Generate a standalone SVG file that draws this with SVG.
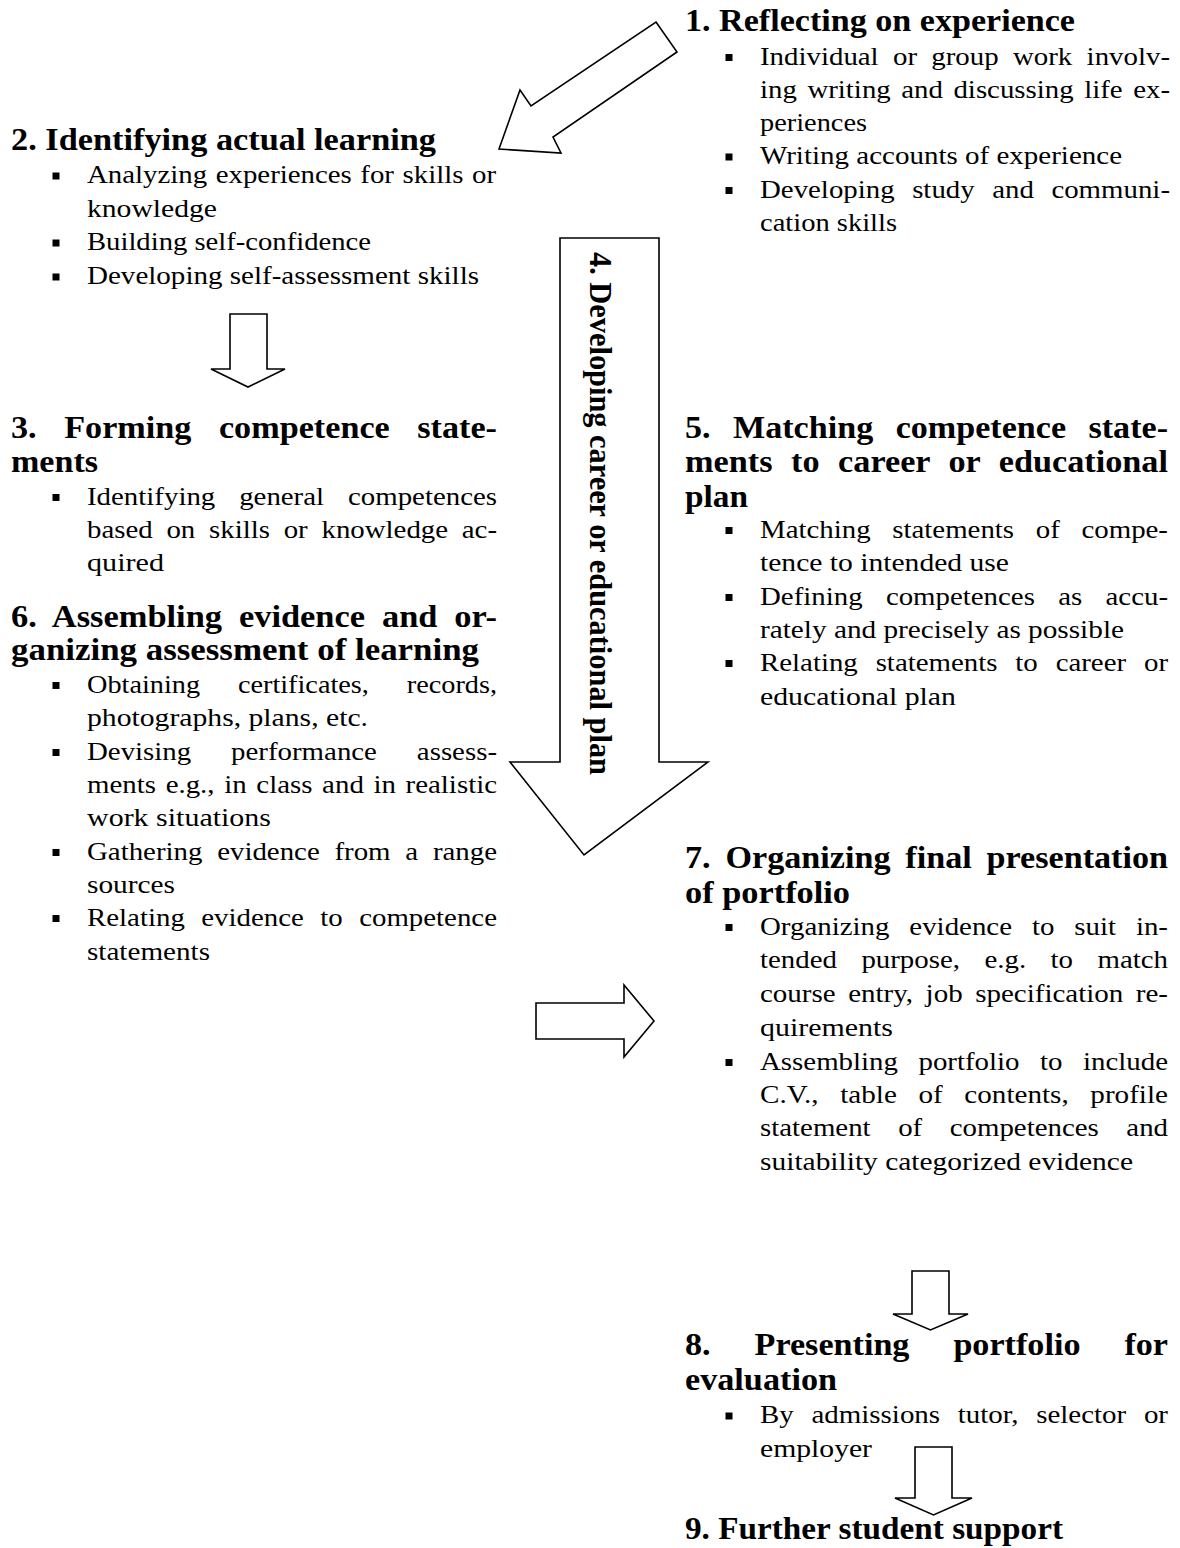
<svg xmlns="http://www.w3.org/2000/svg" xmlns:xlink="http://www.w3.org/1999/xlink" width="1180" height="1548" viewBox="0 0 1180 1548">
<style>
text{font-family:"Liberation Serif","Times New Roman",serif;fill:#000}
.h{font-weight:bold;font-size:31px}
.b{font-size:26px}
.ar{fill:#fff;stroke:#000;stroke-width:1.6;stroke-linejoin:miter}
</style>
<defs>
<rect id="blt" width="7" height="7" fill="#000"/>
</defs>
<rect width="1180" height="1548" fill="#fff"/>
<g id="connectors">
<polygon class="ar" points="656,22 677,52 553,137 561,153 499,149 520,90 531,106"/>
<path class="ar" d="M230,314 H267 V369 H285 L248,387 L211,369 H230 Z"/>
<path class="ar" d="M536,1003 H624 V985 L654,1021 L624,1057 V1039 H536 Z"/>
<path class="ar" d="M912,1271 H949 V1314 H968 L930.5,1330 L893,1314 H912 Z"/>
<path class="ar" d="M915,1447 H952 V1498 H972 L933.5,1515 L895,1498 H915 Z"/>
</g>
<g id="n4">
<path class="ar" d="M560,238 H659 V762 H708 L584,855 L510,762 H560 Z"/>
<text class="h" transform="translate(590,252) rotate(90)" textLength="523" lengthAdjust="spacingAndGlyphs">4. Developing career or educational plan</text>
</g>
<g id="n1">
<text class="h" x="685" y="31" textLength="390" lengthAdjust="spacingAndGlyphs">1. Reflecting on experience</text>
<use xlink:href="#blt" x="725.5" y="54"/>
<text class="b" x="760" y="64.5" textLength="410" lengthAdjust="spacingAndGlyphs" style="word-spacing:6.4px">Individual or group work involv-</text>
<text class="b" x="760" y="98" textLength="410" lengthAdjust="spacingAndGlyphs" style="word-spacing:3px">ing writing and discussing life ex-</text>
<text class="b" x="760" y="131" textLength="107" lengthAdjust="spacingAndGlyphs">periences</text>
<use xlink:href="#blt" x="725.5" y="153.5"/>
<text class="b" x="760" y="164" textLength="362" lengthAdjust="spacingAndGlyphs">Writing accounts of experience</text>
<use xlink:href="#blt" x="725.5" y="187"/>
<text class="b" x="760" y="197.5" textLength="410" lengthAdjust="spacingAndGlyphs" style="word-spacing:9.3px">Developing study and communi-</text>
<text class="b" x="760" y="231" textLength="137" lengthAdjust="spacingAndGlyphs">cation skills</text>
</g>
<g id="n2">
<text class="h" x="11" y="150" textLength="425" lengthAdjust="spacingAndGlyphs">2. Identifying actual learning</text>
<use xlink:href="#blt" x="52.5" y="172.5"/>
<text class="b" x="87" y="183" textLength="409" lengthAdjust="spacingAndGlyphs" style="word-spacing:1.2px">Analyzing experiences for skills or</text>
<text class="b" x="87" y="217" textLength="130" lengthAdjust="spacingAndGlyphs">knowledge</text>
<use xlink:href="#blt" x="52.5" y="239.5"/>
<text class="b" x="87" y="250" textLength="284" lengthAdjust="spacingAndGlyphs">Building self-confidence</text>
<use xlink:href="#blt" x="52.5" y="273.5"/>
<text class="b" x="87" y="284" textLength="392" lengthAdjust="spacingAndGlyphs">Developing self-assessment skills</text>
</g>
<g id="n3">
<text class="h" x="11" y="438" textLength="486" lengthAdjust="spacingAndGlyphs" style="word-spacing:17.25px">3. Forming competence state-</text>
<text class="h" x="11" y="472" textLength="87" lengthAdjust="spacingAndGlyphs">ments</text>
<use xlink:href="#blt" x="52.5" y="494"/>
<text class="b" x="87" y="504.5" textLength="410" lengthAdjust="spacingAndGlyphs" style="word-spacing:15px">Identifying general competences</text>
<text class="b" x="87" y="537.5" textLength="410" lengthAdjust="spacingAndGlyphs" style="word-spacing:5.9px">based on skills or knowledge ac-</text>
<text class="b" x="87" y="570.5" textLength="77" lengthAdjust="spacingAndGlyphs">quired</text>
</g>
<g id="n6">
<text class="h" x="11" y="627" textLength="486" lengthAdjust="spacingAndGlyphs" style="word-spacing:7.5px">6. Assembling evidence and or-</text>
<text class="h" x="11" y="660" textLength="468" lengthAdjust="spacingAndGlyphs">ganizing assessment of learning</text>
<use xlink:href="#blt" x="52.5" y="682"/>
<text class="b" x="87" y="692.5" textLength="410" lengthAdjust="spacingAndGlyphs" style="word-spacing:28.3px">Obtaining certificates, records,</text>
<text class="b" x="87" y="725.5" textLength="281" lengthAdjust="spacingAndGlyphs">photographs, plans, etc.</text>
<use xlink:href="#blt" x="52.5" y="749"/>
<text class="b" x="87" y="759.5" textLength="410" lengthAdjust="spacingAndGlyphs" style="word-spacing:29.45px">Devising performance assess-</text>
<text class="b" x="87" y="792.5" textLength="410" lengthAdjust="spacingAndGlyphs" style="word-spacing:2.2px">ments e.g., in class and in realistic</text>
<text class="b" x="87" y="825.5" textLength="184" lengthAdjust="spacingAndGlyphs">work situations</text>
<use xlink:href="#blt" x="52.5" y="849"/>
<text class="b" x="87" y="859.5" textLength="410" lengthAdjust="spacingAndGlyphs" style="word-spacing:6.8px">Gathering evidence from a range</text>
<text class="b" x="87" y="892.5" textLength="88" lengthAdjust="spacingAndGlyphs">sources</text>
<use xlink:href="#blt" x="52.5" y="915"/>
<text class="b" x="87" y="925.5" textLength="410" lengthAdjust="spacingAndGlyphs" style="word-spacing:8.3px">Relating evidence to competence</text>
<text class="b" x="87" y="959.5" textLength="123" lengthAdjust="spacingAndGlyphs">statements</text>
</g>
<g id="n5">
<text class="h" x="685" y="438" textLength="483" lengthAdjust="spacingAndGlyphs" style="word-spacing:12.65px">5. Matching competence state-</text>
<text class="h" x="685" y="472" textLength="483" lengthAdjust="spacingAndGlyphs" style="word-spacing:9.05px">ments to career or educational</text>
<text class="h" x="685" y="507" textLength="63" lengthAdjust="spacingAndGlyphs">plan</text>
<use xlink:href="#blt" x="725.5" y="527"/>
<text class="b" x="760" y="537.5" textLength="408" lengthAdjust="spacingAndGlyphs" style="word-spacing:13px">Matching statements of compe-</text>
<text class="b" x="760" y="570.5" textLength="249" lengthAdjust="spacingAndGlyphs">tence to intended use</text>
<use xlink:href="#blt" x="725.5" y="594"/>
<text class="b" x="760" y="604.5" textLength="408" lengthAdjust="spacingAndGlyphs" style="word-spacing:14.5px">Defining competences as accu-</text>
<text class="b" x="760" y="637.5" textLength="364" lengthAdjust="spacingAndGlyphs">rately and precisely as possible</text>
<use xlink:href="#blt" x="725.5" y="660"/>
<text class="b" x="760" y="670.5" textLength="408" lengthAdjust="spacingAndGlyphs" style="word-spacing:9.6px">Relating statements to career or</text>
<text class="b" x="760" y="704.5" textLength="196" lengthAdjust="spacingAndGlyphs">educational plan</text>
</g>
<g id="n7">
<text class="h" x="685" y="868" textLength="483" lengthAdjust="spacingAndGlyphs" style="word-spacing:5.7px">7. Organizing final presentation</text>
<text class="h" x="685" y="903" textLength="165" lengthAdjust="spacingAndGlyphs">of portfolio</text>
<use xlink:href="#blt" x="725.5" y="924"/>
<text class="b" x="760" y="934.5" textLength="408" lengthAdjust="spacingAndGlyphs" style="word-spacing:11.4px">Organizing evidence to suit in-</text>
<text class="b" x="760" y="967.5" textLength="408" lengthAdjust="spacingAndGlyphs" style="word-spacing:15.5px">tended purpose, e.g. to match</text>
<text class="b" x="760" y="1002" textLength="408" lengthAdjust="spacingAndGlyphs" style="word-spacing:4.7px">course entry, job specification re-</text>
<text class="b" x="760" y="1035.5" textLength="133" lengthAdjust="spacingAndGlyphs">quirements</text>
<use xlink:href="#blt" x="725.5" y="1059"/>
<text class="b" x="760" y="1069.5" textLength="408" lengthAdjust="spacingAndGlyphs" style="word-spacing:12px">Assembling portfolio to include</text>
<text class="b" x="760" y="1102.5" textLength="408" lengthAdjust="spacingAndGlyphs" style="word-spacing:12.8px">C.V., table of contents, profile</text>
<text class="b" x="760" y="1135.5" textLength="408" lengthAdjust="spacingAndGlyphs" style="word-spacing:18.3px">statement of competences and</text>
<text class="b" x="760" y="1169.5" textLength="373" lengthAdjust="spacingAndGlyphs">suitability categorized evidence</text>
</g>
<g id="n8">
<text class="h" x="685" y="1355" textLength="483" lengthAdjust="spacingAndGlyphs" style="word-spacing:32.15px">8. Presenting portfolio for</text>
<text class="h" x="685" y="1390" textLength="152" lengthAdjust="spacingAndGlyphs">evaluation</text>
<use xlink:href="#blt" x="725.5" y="1412.5"/>
<text class="b" x="760" y="1423" textLength="408" lengthAdjust="spacingAndGlyphs" style="word-spacing:9.4px">By admissions tutor, selector or</text>
<text class="b" x="760" y="1456.5" textLength="112" lengthAdjust="spacingAndGlyphs">employer</text>
</g>
<g id="n9">
<text class="h" x="685" y="1539" textLength="378" lengthAdjust="spacingAndGlyphs">9. Further student support</text>
</g>
</svg>
